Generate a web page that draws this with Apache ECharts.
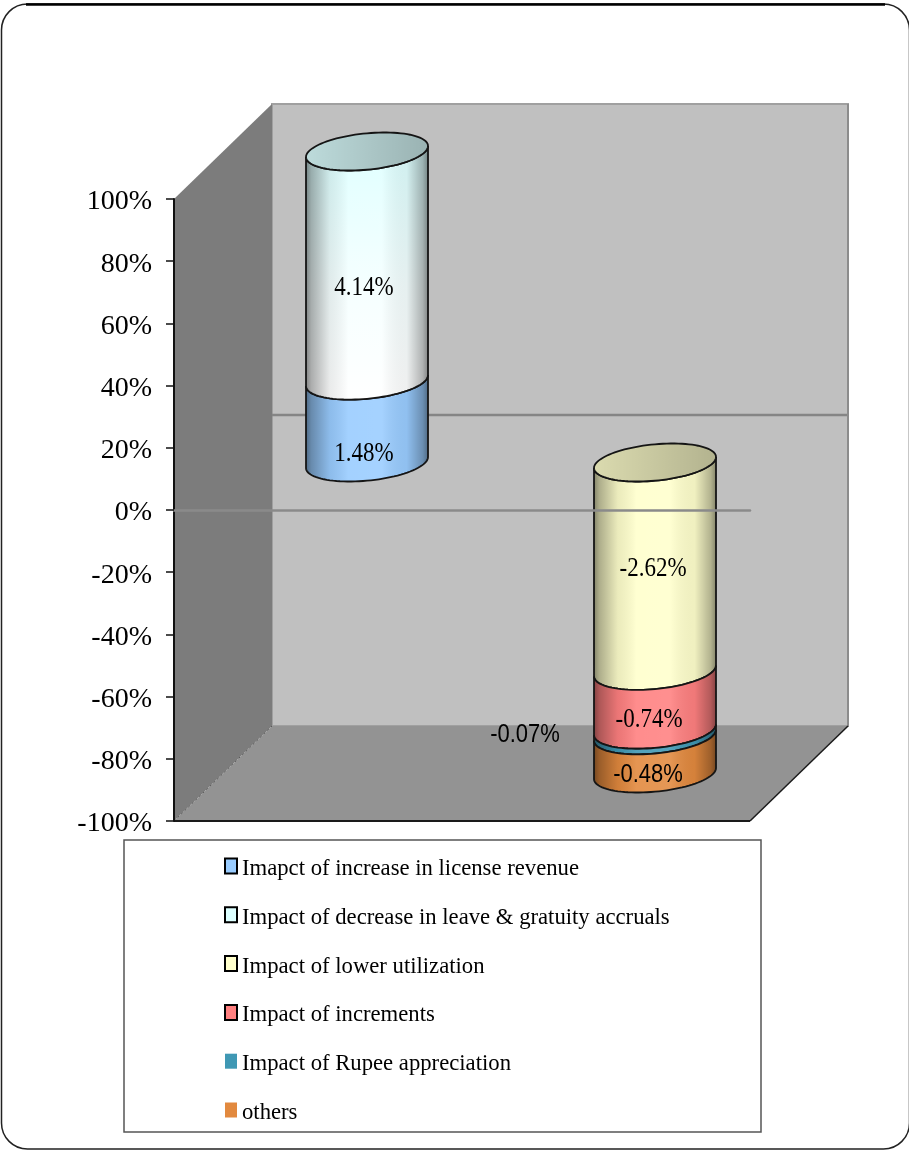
<!DOCTYPE html>
<html>
<head>
<meta charset="utf-8">
<title>Margin impact</title>
<style>html,body{margin:0;padding:0;background:#fff}#chart{width:909px;height:1151px}</style>
<script src="https://cdn.jsdelivr.net/npm/echarts@6/dist/echarts.min.js"></script>
</head>
<body>
<div id="chart"></div>
<script>
// Margin movement drivers, in percentage points, grouped into gains and losses.
var categories = ['Gains', 'Losses'];
var seriesNames = [
  'Imapct of increase in license revenue',
  'Impact of decrease in leave & gratuity accruals',
  'Impact of lower utilization',
  'Impact of increments',
  'Impact of Rupee appreciation',
  'others'
];
var licenseRevenue = [1.48, 0];
var leaveAccruals = [4.14, 0];
var lowerUtilization = [0, -2.62];
var increments = [0, -0.74];
var rupeeAppreciation = [0, -0.07];
var others = [0, -0.48];
var tickStep = 20;

var seriesValues = [licenseRevenue, leaveAccruals, lowerUtilization, increments, rupeeAppreciation, others];
var colors = ['#99ccff', '#dcffff', '#ffffcc', '#ff8080', '#3f98b4', '#e2893e'];

// Oblique projection of the chart box and the shape of a cylinder's section.
var DEPTH_X = 98, DEPTH_Y = 95;
var RADIUS_X = 61, RADIUS_Y = 18.2, SHEAR = 5.5;

// Data label placement relative to the middle of each segment.
var labelNudge = [[-3, 32], [-3, 22], [-2, 2], [-6, 20], [-130, 2], [-7, 21]];
var labelFont = [
  '23px "Liberation Serif"', '23px "Liberation Serif"', '23px "Liberation Serif"',
  '23px "Liberation Serif"', '22px "Liberation Sans"', '22px "Liberation Sans"'
];

// Percent-stacked extents: each category fills its side of the axis.
function extents(cat) {
  var total = 0, run = 0, out = [];
  seriesValues.forEach(function (v) { total += Math.abs(v[cat]); });
  seriesValues.forEach(function (v, i) {
    var share = Math.abs(v[cat]) / total * 100;
    var sign = v[cat] < 0 ? -1 : 1;
    out[i] = { from: sign * run, to: sign * (run + share), last: false };
    if (share > 0) { out.lastIndex = i; }
    run += share;
  });
  out[out.lastIndex].last = true;
  return out;
}
var stacks = categories.map(function (c, i) { return extents(i); });

function arc(cx, cy, reverse) {
  var pts = [], n = 48;
  for (var k = 0; k <= n; k++) {
    var t = Math.PI * (reverse ? n - k : k) / n;
    pts.push([cx + RADIUS_X * Math.cos(t), cy + RADIUS_Y * Math.sin(t) - SHEAR * Math.cos(t)]);
  }
  return pts;
}
function ring(cx, cy) {
  var pts = [], n = 96;
  for (var k = 0; k < n; k++) {
    var t = 2 * Math.PI * k / n;
    pts.push([cx + RADIUS_X * Math.cos(t), cy + RADIUS_Y * Math.sin(t) - SHEAR * Math.cos(t)]);
  }
  return pts;
}
function horizontal(stops) {
  return new echarts.graphic.LinearGradient(0, 0, 1, 0, stops.map(function (s) {
    return { offset: s[0], color: s[1] };
  }));
}
var roundShade = horizontal([
  [0, 'rgba(0,0,0,0.50)'], [0.05, 'rgba(0,0,0,0.32)'], [0.2, 'rgba(0,0,0,0.08)'],
  [0.35, 'rgba(255,255,255,0.10)'], [0.62, 'rgba(255,255,255,0.12)'],
  [0.82, 'rgba(0,0,0,0.06)'], [0.95, 'rgba(0,0,0,0.30)'], [1, 'rgba(0,0,0,0.50)']
]);
var capShade = horizontal([[0, 'rgba(0,0,0,0.14)'], [0.5, 'rgba(0,0,0,0.22)'], [1, 'rgba(0,0,0,0.30)']]);

function cylinderSegment(seriesIndex) {
  return function (params, api) {
    var cat = api.value(0);
    var seg = stacks[cat][seriesIndex];
    if (seg.from === seg.to) { return null; }
    var a = api.coord([cat, seg.from]);
    var b = api.coord([cat, seg.to]);
    var cx = a[0] + DEPTH_X / 2;
    var lift = DEPTH_Y / 2;
    var upper = Math.min(a[1], b[1]) - lift, lower = Math.max(a[1], b[1]) - lift;
    var body = arc(cx, upper, false).concat(arc(cx, lower, true));
    var base = api.visual('color');
    var fill = base;
    if (seriesIndex === 1) {
      // The accruals band fades out to white towards its foot.
      fill = new echarts.graphic.LinearGradient(0, 0, 0, 1, [
        { offset: 0, color: base }, { offset: 0.55, color: '#f4ffff' }, { offset: 1, color: '#ffffff' }
      ]);
    }
    var kids = [
      { type: 'polygon', shape: { points: body }, style: { fill: fill } },
      { type: 'polygon', shape: { points: body }, style: { fill: roundShade, stroke: '#151515', lineWidth: 1.8 } }
    ];
    var isCapped = seg.to > seg.from ? seg.last : seg.from === 0;
    if (isCapped) {
      var cap = ring(cx, upper);
      kids.push({ type: 'polygon', shape: { points: cap }, style: { fill: base } });
      kids.push({ type: 'polygon', shape: { points: cap }, style: { fill: capShade, stroke: '#151515', lineWidth: 1.8 } });
    }
    var nudge = labelNudge[seriesIndex];
    kids.push({
      type: 'text',
      z2: 10,
      x: cx + nudge[0],
      y: (upper + lower) / 2 + nudge[1],
      scaleY: 1.16,
      style: {
        x: 0, y: 0,
        text: api.value(3).toFixed(2) + '%',
        font: labelFont[seriesIndex], fill: '#000', align: 'center', verticalAlign: 'middle'
      }
    });
    return { type: 'group', children: kids };
  };
}

// Side wall, back wall and floor, projected from the plot's own scale.
function renderBox(params, api) {
  var g = params.coordSys;
  var left = g.x, right = g.x + g.width;
  var top = api.coord([0, 100])[1], bottom = api.coord([0, -100])[1], zero = api.coord([0, 0])[1];
  function back(x, y) { return [x + DEPTH_X, y - DEPTH_Y]; }
  var edge = { stroke: '#8c8c8c', lineWidth: 2 };
  return {
    type: 'group',
    children: [
      { type: 'polygon', shape: { points: [back(left, top), back(right, top), back(right, bottom), back(left, bottom)] },
        style: { fill: '#c0c0c0', stroke: '#a0a0a0', lineWidth: 2 } },
      { type: 'polygon', shape: { points: [[left, top], back(left, top), back(left, bottom), [left, bottom]] },
        style: { fill: '#7c7c7c' } },
      { type: 'polygon', shape: { points: [[left, bottom], back(left, bottom), back(right, bottom), [right, bottom]] },
        style: { fill: '#939393' } },
      { type: 'line', shape: { x1: back(left, 0)[0], y1: zero - DEPTH_Y, x2: back(right, 0)[0], y2: zero - DEPTH_Y },
        style: { stroke: '#858585', lineWidth: 2.5 } },
      { type: 'line', shape: { x1: back(right, top)[0], y1: top - DEPTH_Y, x2: back(right, bottom)[0], y2: bottom - DEPTH_Y }, style: edge },
      { type: 'line', shape: { x1: left, y1: bottom, x2: back(left, bottom)[0], y2: bottom - DEPTH_Y },
        style: { stroke: '#5a5a5a', lineWidth: 1, lineDash: [2, 3] } },
      { type: 'line', shape: { x1: left, y1: bottom, x2: right, y2: bottom },
        style: { stroke: '#1a1a1a', lineWidth: 2 } },
      { type: 'line', shape: { x1: right, y1: bottom, x2: back(right, bottom)[0], y2: bottom - DEPTH_Y },
        style: { stroke: '#1a1a1a', lineWidth: 1.5 } }
    ]
  };
}

var series = [{
  type: 'custom', name: 'box', silent: true, z: 1,
  data: [[0]], encode: { x: 0 }, renderItem: renderBox, clip: false
}];
seriesNames.forEach(function (name, i) {
  series.push({
    type: 'custom', name: name, z: 3, clip: false,
    itemStyle: { color: colors[i] },
    renderItem: cylinderSegment(i),
    encode: { x: 0, y: [1, 2] },
    data: categories.map(function (c, cat) {
      return [cat, stacks[cat][i].from, stacks[cat][i].to, seriesValues[i][cat]];
    }).filter(function (row) { return row[3] !== 0; })
  });
});

// The last two legend swatches are drawn without an outline.
var legendItems = seriesNames.map(function (name, i) {
  return i < 4
    ? { name: name, itemStyle: { borderColor: '#000', borderWidth: 2 } }
    : { name: name, itemStyle: { borderWidth: 0 } };
});

var chart = echarts.init(document.getElementById('chart'), null, { renderer: 'canvas' });
chart.setOption({
  animation: false,
  backgroundColor: '#ffffff',
  grid: { left: 174, top: 199, width: 576, height: 622, containLabel: false },
  xAxis: {
    type: 'category', data: categories, z: 10,
    axisLine: { onZero: true, lineStyle: { color: '#8a8a8a', width: 2.5 } },
    axisTick: { show: false }, axisLabel: { show: false }
  },
  yAxis: {
    type: 'value', min: -100, max: 100, interval: tickStep, z: 10,
    splitLine: { show: false },
    axisLine: { show: true, lineStyle: { color: '#111', width: 2 } },
    axisTick: { show: true, length: 8, lineStyle: { color: '#111', width: 1.5 } },
    axisLabel: {
      formatter: '{value}%', margin: 22, color: '#000',
      fontFamily: 'Liberation Serif', fontSize: 28, verticalAlign: 'top', lineHeight: 6
    }
  },
  legend: {
    data: legendItems, orient: 'vertical', left: 224, top: 851.5,
    selectedMode: false, padding: 0,
    icon: 'rect', itemWidth: 12, itemHeight: 15, itemGap: 19.8,
    formatter: '{t|{name}}',
    textStyle: {
      color: '#000',
      rich: { t: { fontFamily: 'Liberation Serif', fontSize: 22.7, color: '#000', lineHeight: 24, padding: [6, 0, 0, 0] } }
    }
  },
  graphic: [
    { type: 'rect', z: -1, shape: { x: 1.5, y: 4, width: 908, height: 1145, r: 26 },
      style: { fill: 'none', stroke: '#222', lineWidth: 1.5 } },
    { type: 'line', z: -1, shape: { x1: 26, y1: 4.5, x2: 885, y2: 4.5 },
      style: { stroke: '#000', lineWidth: 2.5 } },
    { type: 'rect', z: -1, shape: { x: 124, y: 840, width: 637, height: 292 },
      style: { fill: '#fff', stroke: '#555', lineWidth: 1.5 } }
  ],
  series: series
});
</script>
</body>
</html>
